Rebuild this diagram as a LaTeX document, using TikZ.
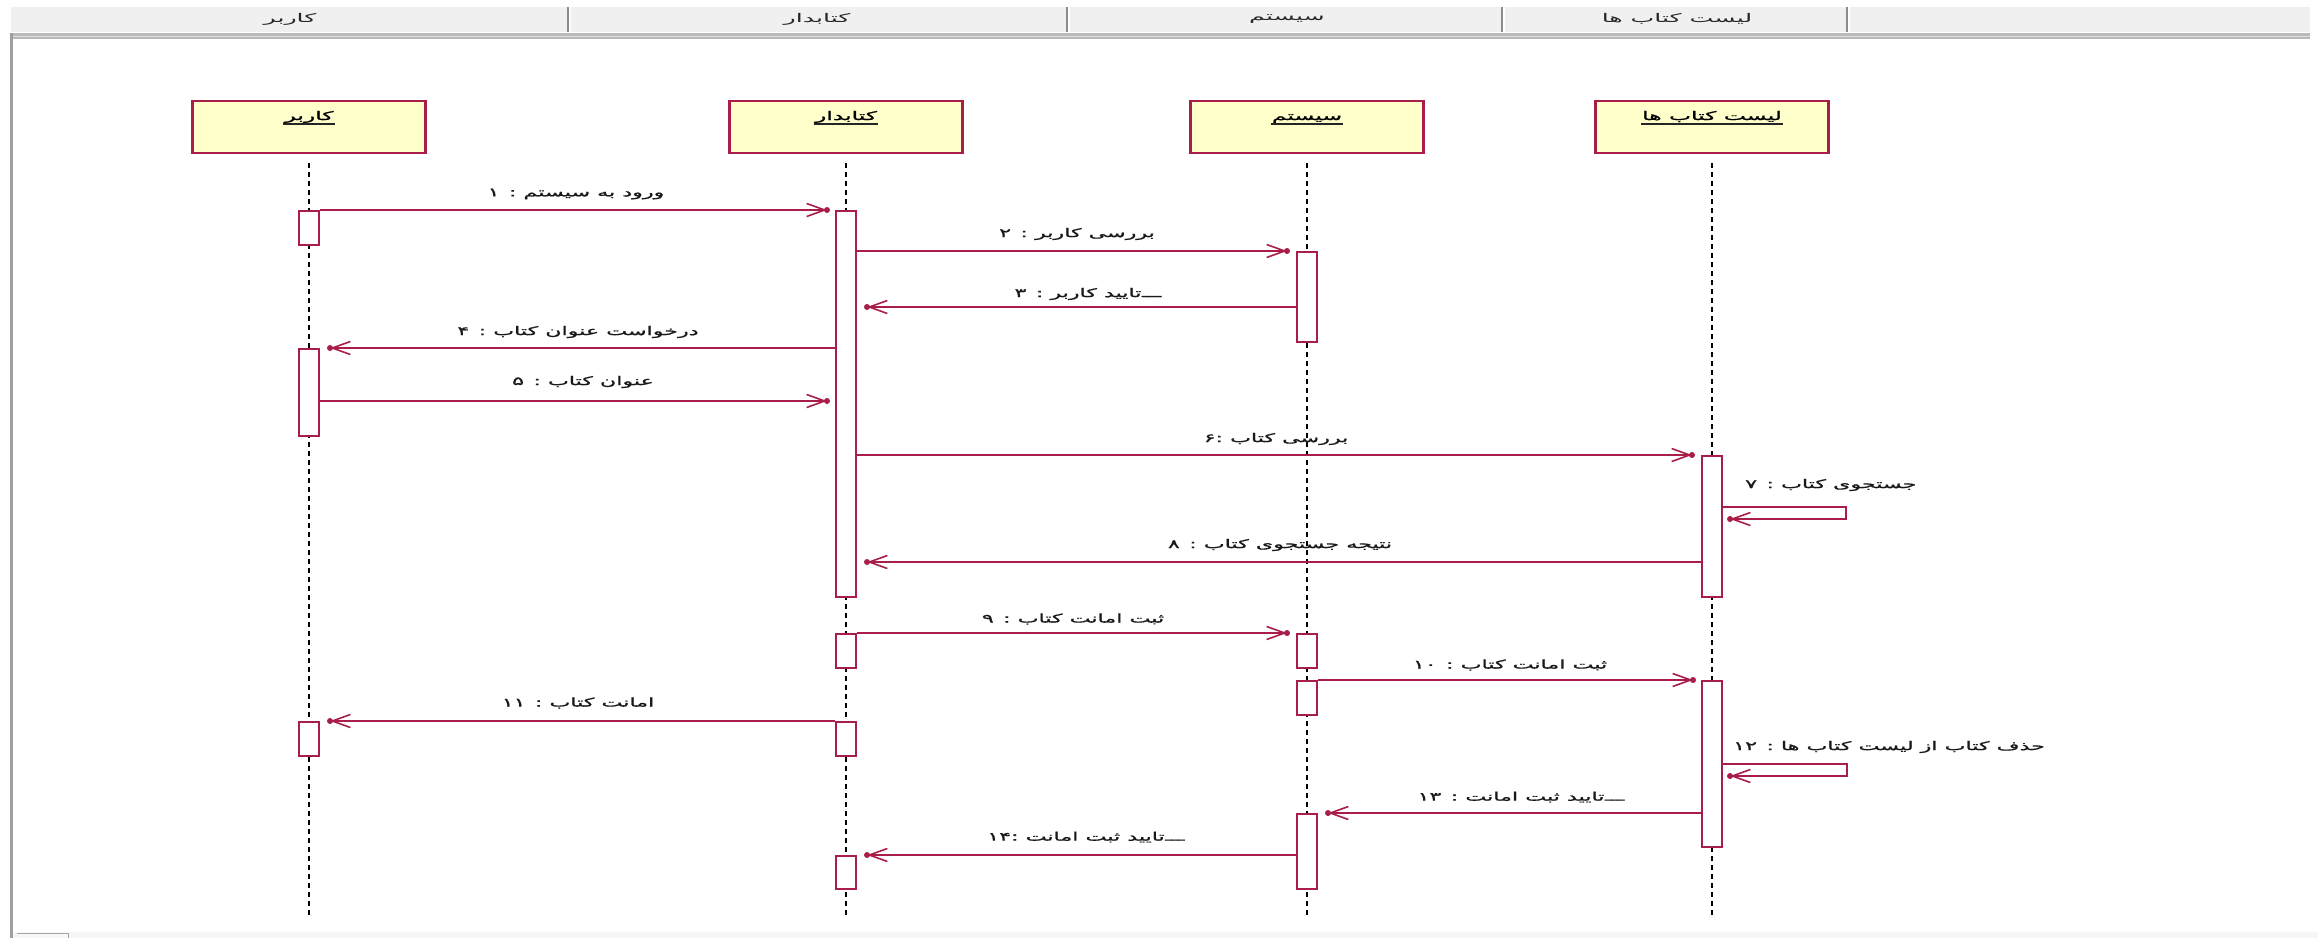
\documentclass[tikz,border=0pt]{standalone}
\usepackage{fontspec}
\usepackage{graphicx}
\TeXXeTstate=1
\newfontfamily\fa[Script=Arabic,FakeBold=0.9]{DejaVu Sans}
\newfontfamily\fah[Script=Arabic]{DejaVu Sans}
\usetikzlibrary{arrows.meta,calc}
\definecolor{crim}{RGB}{168,30,72}
\definecolor{boxfill}{RGB}{255,255,204}
\definecolor{hdrgray}{RGB}{240,240,240}
\definecolor{sepgray}{RGB}{140,140,140}
\newcommand{\rl}[2][1.85]{\scalebox{#1}[1]{\beginR #2\endR}}
\begin{document}
\begin{tikzpicture}[x=1pt,y=-1pt,
  headbox/.style={draw=crim, line width=2.4pt, fill=boxfill, minimum width=233pt, minimum height=52pt, inner sep=0pt},
  headlbl/.style={font=\fa\fontsize{12}{14}\selectfont, inner sep=0pt, text height=9pt, text depth=3pt},
  hdrtxt/.style={font=\fah\fontsize{12}{14}\selectfont, text=black!85, inner sep=0pt},
  lifeline/.style={draw=black, line width=2.6pt, dash pattern=on 4.5pt off 4.5pt},
  actbar/.style={draw=crim, line width=2pt, fill=white, minimum width=20pt, inner sep=0pt},
  msg/.style={draw=crim, line width=1.8pt, -{Straight Barb[length=18pt,width=13pt,line width=1.6pt]}},
  tipdot/.style={circle, fill=crim, inner sep=0pt, minimum size=6pt},
  msglbl/.style={font=\fa\fontsize{12}{14}\selectfont, text=black!90, inner sep=0pt},
  tatweel/.style={font=\fa\fontsize{12}{14}\selectfont, text=black!90, inner sep=0pt, anchor=base west},
  ul/.style={draw=black!85, line width=1.6pt}
]
\useasboundingbox (0,0) rectangle (2318,938);
\fill[white] (0,0) rectangle (2318,938);

% window header
\fill[hdrgray] (11,7) rectangle (2310,32);
\foreach \sx in {568,1067,1502,1847}{
  \draw[sepgray, line width=2pt] (\sx,7) -- (\sx,32);
  \draw[white, line width=1.5pt] (\sx+2,7) -- (\sx+2,32);
}
\fill[gray!55] (11,33) rectangle (2310,39);
\draw[gray!25, line width=1pt] (11,36) -- (2310,36);
\draw[gray!75, line width=3pt] (11.5,33) -- (11.5,938);
\fill[gray!7] (13,932) rectangle (2318,938);
\draw[gray!70, line width=1pt] (17,933.5) -- (68,933.5) -- (68,938);

\node[hdrtxt] (h1) at (290,19) {\rl[2.1]{کاربر}};
\node[hdrtxt] (h2) at (817,19) {\rl[2.1]{کتابدار}};
\node[hdrtxt] (h3) at (1287,19) {\rl[2.1]{سیستم}};
\node[hdrtxt] (h4) at (1677,19) {\rl[2.1]{لیست کتاب ها}};

% lifeline heads
\node[headbox] (u) at (309,127) {};
\node[headbox] (k) at (846,127) {};
\node[headbox] (s) at (1307,127) {};
\node[headbox] (l) at (1712,127) {};
\node[headlbl] (ulbl) at (309,117) {\rl[1.95]{کاربر}};
\node[headlbl] (klbl) at (846,117) {\rl[1.95]{کتابدار}};
\node[headlbl] (slbl) at (1307,117) {\rl[1.95]{سیستم}};
\node[headlbl] (llbl) at (1712,117) {\rl[1.95]{لیست کتاب ها}};
\foreach \n in {ulbl,klbl,slbl,llbl}
  \draw[ul] ($(\n.south west)+(-1pt,-1pt)$) -- ($(\n.south east)+(1pt,-1pt)$);

% lifelines
\coordinate (uend) at (309,919);
\coordinate (kend) at (846,919);
\coordinate (send) at (1307,919);
\coordinate (lend) at (1712,919);
\draw[lifeline] ([yshift=-9pt]u.south) -- (uend);
\draw[lifeline] ([yshift=-9pt]k.south) -- (kend);
\draw[lifeline] ([yshift=-9pt]s.south) -- (send);
\draw[lifeline] ([yshift=-9pt]l.south) -- (lend);

% activation bars
\node[actbar, minimum height=34pt] (a1) at (309,228) {};
\node[actbar, minimum height=87pt] (a2) at (309,392.5) {};
\node[actbar, minimum height=34pt] (a3) at (309,739) {};
\node[actbar, minimum height=386pt] (b1) at (846,404) {};
\node[actbar, minimum height=34pt] (b2) at (846,651) {};
\node[actbar, minimum height=34pt] (b3) at (846,739) {};
\node[actbar, minimum height=33pt] (b4) at (846,872.5) {};
\node[actbar, minimum height=90pt] (c1) at (1307,297) {};
\node[actbar, minimum height=34pt] (c2) at (1307,651) {};
\node[actbar, minimum height=34pt] (c3) at (1307,698) {};
\node[actbar, minimum height=75pt] (c4) at (1307,851.5) {};
\node[actbar, minimum height=141pt] (d1) at (1712,526.5) {};
\node[actbar, minimum height=166pt] (d2) at (1712,764) {};

% message levels
\coordinate (y3) at (0,307);
\coordinate (y5) at (0,401);
\coordinate (y7a) at (1846,507);
\coordinate (y7b) at (1846,519);
\coordinate (y8) at (0,562);
\coordinate (y12a) at (1847,764);
\coordinate (y12b) at (1847,776);

% messages
\draw[msg] (a1.north east) -- ($(b1.north west)+(-8pt,0)$) node[tipdot] (t1) {};
\draw[msg] (b1.east |- c1.north) -- ($(c1.north west)+(-9pt,0)$) node[tipdot] (t2) {};
\draw[msg] (c1.west |- y3) -- ($(b1.east |- y3)+(10pt,0)$) node[tipdot] (t3) {};
\draw[msg] (b1.west |- a2.north) -- ($(a2.north east)+(10pt,0)$) node[tipdot] (t4) {};
\draw[msg] (a2.east |- y5) -- ($(b1.west |- y5)+(-8pt,0)$) node[tipdot] (t5) {};
\draw[msg] (b1.east |- d1.north) -- ($(d1.north west)+(-9pt,0)$) node[tipdot] (t6) {};
\draw[msg] (d1.east |- y7a) -- (y7a) -- (y7b) -- ($(d1.east |- y7b)+(7pt,0)$) node[tipdot] (t7) {};
\draw[msg] (d1.west |- y8) -- ($(b1.east |- y8)+(10pt,0)$) node[tipdot] (t8) {};
\draw[msg] (b2.north east) -- ($(c2.north west)+(-9pt,0)$) node[tipdot] (t9) {};
\draw[msg] (c3.north east) -- ($(d2.north west)+(-8pt,0)$) node[tipdot] (t10) {};
\draw[msg] (b3.north west) -- ($(a3.north east)+(10pt,0)$) node[tipdot] (t11) {};
\draw[msg] (d2.east |- y12a) -- (y12a) -- (y12b) -- ($(d2.east |- y12b)+(7pt,0)$) node[tipdot] (t12) {};
\draw[msg] (d2.west |- c4.north) -- ($(c4.north east)+(10pt,0)$) node[tipdot] (t13) {};
\draw[msg] (c4.west |- b4.north) -- ($(b4.north east)+(10pt,0)$) node[tipdot] (t14) {};

% message labels
\node[msglbl] (m1) at (576,194) {\rl{ورود به سیستم : ۱}};
\node[msglbl] (m2) at (1077,234) {\rl{بررسی کاربر : ۲}};
\node[msglbl] (m3) at (1078,294) {\rl{تایید کاربر : ۳}};
\node[tatweel] (m3t) at (m3.base east) {\rl{ـــ}};
\node[msglbl] (m4) at (578,332) {\rl{درخواست عنوان کتاب : ۴}};
\node[msglbl] (m5) at (583,382) {\rl{عنوان کتاب : ۵}};
\node[msglbl] (m6) at (1276,439) {\rl{بررسی کتاب :۶}};
\node[msglbl, anchor=west] (m7) at (1745,485) {\rl{جستجوی کتاب : ۷}};
\node[msglbl] (m8) at (1280,545) {\rl{نتیجه جستجوی کتاب : ۸}};
\node[msglbl] (m9) at (1073,619) {\rl{ثبت امانت کتاب : ۹}};
\node[msglbl] (m10) at (1510,665) {\rl{ثبت امانت کتاب : \beginL۱۰\endL}};
\node[msglbl] (m11) at (578,703) {\rl{امانت کتاب : \beginL۱۱\endL}};
\node[msglbl, anchor=west] (m12) at (1733,747) {\rl{حذف کتاب از لیست کتاب ها : \beginL۱۲\endL}};
\node[msglbl] (m13) at (1511,797) {\rl{تایید ثبت امانت : \beginL۱۳\endL}};
\node[tatweel] (m13t) at (m13.base east) {\rl{ـــ}};
\node[msglbl] (m14) at (1076,837) {\rl{تایید ثبت امانت :\beginL۱۴\endL}};
\node[tatweel] (m14t) at (m14.base east) {\rl{ـــ}};
\end{tikzpicture}
\end{document}
